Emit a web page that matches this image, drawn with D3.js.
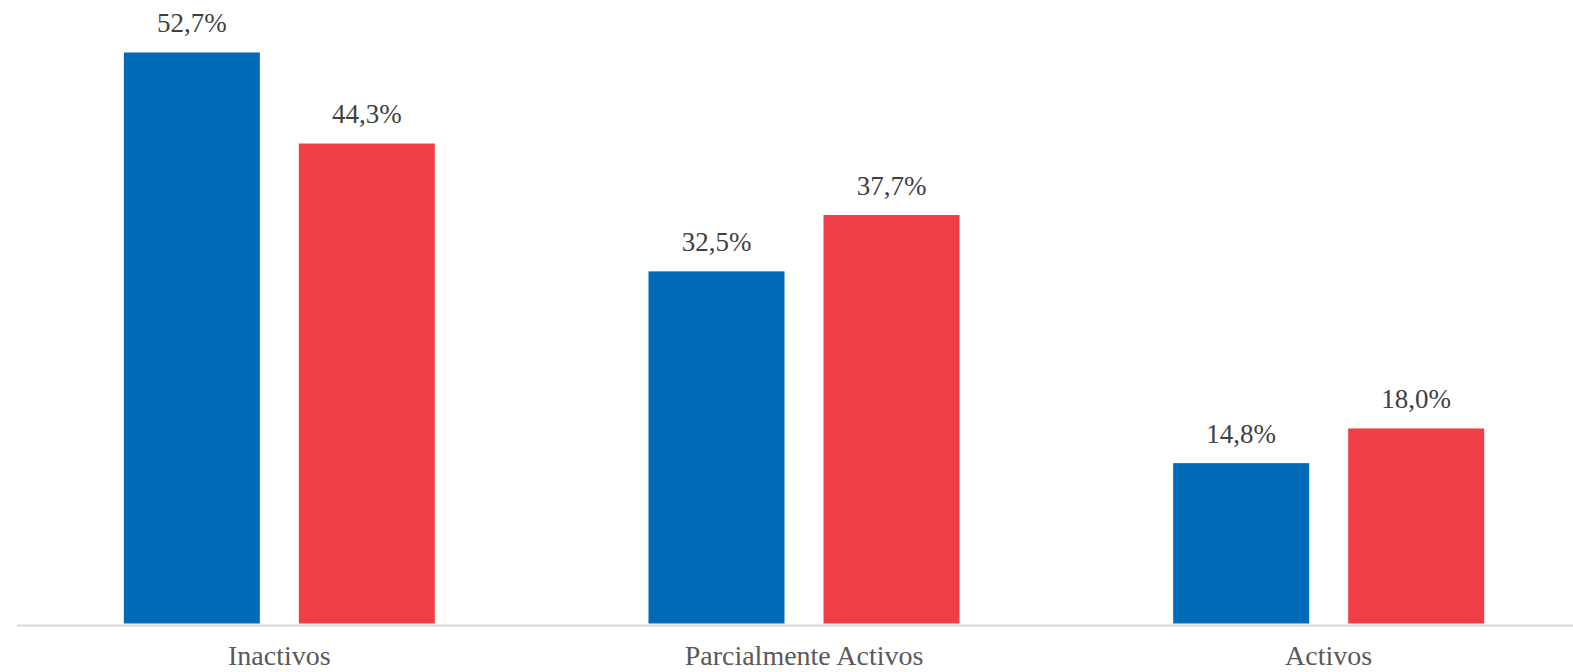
<!DOCTYPE html>
<html><head><meta charset="utf-8">
<script src="https://cdn.jsdelivr.net/npm/d3@7"></script>
<style>body{margin:0;background:#fff;}svg{display:block;}</style>
</head><body>
<script>
const categories = ["Inactivos", "Parcialmente Activos", "Activos"];
const series = ["Serie 1", "Serie 2"];
const values1 = [52.7, 32.5, 14.8];
const values2 = [44.3, 37.7, 18.0];
const valueLabels1 = ["52,7%", "32,5%", "14,8%"];
const valueLabels2 = ["44,3%", "37,7%", "18,0%"];
const colors = ["#006AB6", "#EF3E45"];

const W = 1573, H = 672;
const svg = d3.select("body").append("svg").attr("width", W).attr("height", H);
const baseY = 623.5;
const y = d3.scaleLinear().domain([0, 52.7]).range([baseY, 52.5]);
const x = d3.scaleBand().domain(categories).range([17, 1591]).paddingInner(0).paddingOuter(0);
const inner = d3.scaleBand().domain(series).range([0, 311]).paddingInner(39/175);

const data = categories.map((c, i) => ({c, vals: [
  {s: series[0], v: values1[i], l: valueLabels1[i]},
  {s: series[1], v: values2[i], l: valueLabels2[i]}]}));

const g = svg.append("g");
const groups = g.selectAll("g.grp").data(data).join("g")
  .attr("transform", d => `translate(${x(d.c) + x.bandwidth()/2 - 155.5},0)`);
groups.selectAll("rect").data(d => d.vals).join("rect")
  .attr("x", d => inner(d.s)).attr("width", inner.bandwidth())
  .attr("y", d => y(d.v)).attr("height", d => baseY - y(d.v))
  .attr("fill", (d, i) => colors[i]);
groups.selectAll("text").data(d => d.vals).join("text")
  .attr("x", d => inner(d.s) + inner.bandwidth()/2)
  .attr("y", d => y(d.v) - 20.5)
  .attr("text-anchor", "middle")
  .attr("font-family", "Liberation Serif, Times New Roman, serif")
  .attr("font-size", 27).attr("fill", "#404040")
  .text(d => d.l);

// axis
const axis = svg.append("g").attr("transform", `translate(0,${baseY + 2})`)
  .call(d3.axisBottom(x).tickSize(0).tickPadding(20));
axis.select(".domain").attr("d", `M17,0H${W}`).attr("stroke", "#d9d9d9").attr("stroke-width", 2);
axis.selectAll("text").attr("font-family", "Liberation Serif, Times New Roman, serif")
  .attr("font-size", 28).attr("fill", "#595959");
</script>
</body></html>
